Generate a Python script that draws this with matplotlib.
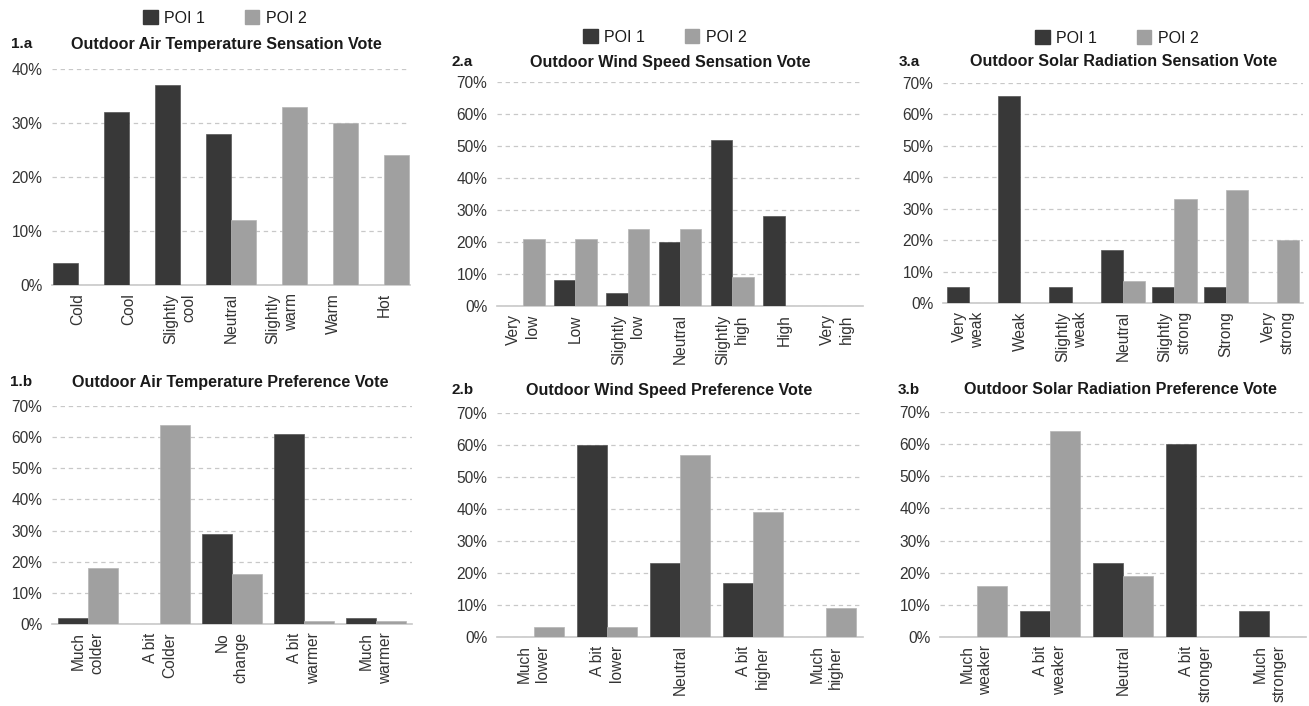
import matplotlib
matplotlib.use("Agg")
import matplotlib.pyplot as plt
from matplotlib.patches import Patch
from matplotlib.ticker import PercentFormatter
import numpy as np

plt.rcParams['font.family'] = ['Liberation Sans', 'DejaVu Sans']

# --- data (percent of votes) ---
cats_1a = ['Cold', 'Cool', 'Slightly\ncool', 'Neutral', 'Slightly\nwarm', 'Warm', 'Hot']
poi1_1a = [4, 32, 37, 28, 0, 0, 0]
poi2_1a = [0, 0, 0, 12, 33, 30, 24]

cats_2a = ['Very\nlow', 'Low', 'Slightly\nlow', 'Neutral', 'Slightly\nhigh', 'High', 'Very\nhigh']
poi1_2a = [0, 8, 4, 20, 52, 28, 0]
poi2_2a = [21, 21, 24, 24, 9, 0, 0]

cats_3a = ['Very\nweak', 'Weak', 'Slightly\nweak', 'Neutral', 'Slightly\nstrong', 'Strong', 'Very\nstrong']
poi1_3a = [5, 66, 5, 17, 5, 5, 0]
poi2_3a = [0, 0, 0, 7, 33, 36, 20]

cats_1b = ['Much\ncolder', 'A bit\nColder', 'No\nchange', 'A bit\nwarmer', 'Much\nwarmer']
poi1_1b = [2, 0, 29, 61, 2]
poi2_1b = [18, 64, 16, 1, 1]

cats_2b = ['Much\nlower', 'A bit\nlower', 'Neutral', 'A bit\nhigher', 'Much\nhigher']
poi1_2b = [0, 60, 23, 17, 0]
poi2_2b = [3, 3, 57, 39, 9]

cats_3b = ['Much\nweaker', 'A bit\nweaker', 'Neutral', 'A bit\nstronger', 'Much\nstronger']
poi1_3b = [0, 8, 23, 60, 8]
poi2_3b = [16, 64, 19, 0, 0]

DARK = '#383838'
LIGHT = '#a0a0a0'
W, H = 1309, 706

fig = plt.figure(figsize=(W / 100, H / 100), dpi=100)


def px_axes(x0, y0, x1, y1):
    return fig.add_axes([x0 / W, 1 - y1 / H, (x1 - x0) / W, (y1 - y0) / H])


def panel(box, cats, p1, p2, ymax, bw, tag, title, tag_xy, title_xy, legend_xy=None):
    ax = px_axes(*box)
    x = np.arange(len(cats))
    ax.bar(x - bw / 2, p1, bw, color=DARK, edgecolor='#555555', linewidth=0.5, zorder=3)
    ax.bar(x + bw / 2, p2, bw, color=LIGHT, edgecolor='#b4b4b4', linewidth=0.5, zorder=3)
    ax.set_xlim(-0.5, len(cats) - 0.5)
    ax.set_ylim(0, ymax)
    ax.set_yticks(np.arange(0, ymax + 1, 10))
    ax.yaxis.set_major_formatter(PercentFormatter(decimals=0))
    ax.set_xticks(x)
    ax.set_xticklabels(cats, rotation=90, ha='center', va='top', multialignment='right',
                       linespacing=1.3)
    ax.tick_params(axis='both', length=0, labelsize=11.2, labelcolor='#333333')
    ax.tick_params(axis='y', pad=7)
    ax.tick_params(axis='x', pad=6)
    ax.grid(axis='y', color='#c8c8c8', linestyle=(0, (3.5, 3)), linewidth=0.9, zorder=0)
    for s in ['top', 'right', 'left']:
        ax.spines[s].set_visible(False)
    ax.spines['bottom'].set_color('#c8c8c8')
    ax.spines['bottom'].set_linewidth(1.2)
    fig.text(tag_xy[0] / W, 1 - tag_xy[1] / H, tag, fontsize=11, fontweight='bold',
             color='#1a1a1a', ha='left', va='center')
    fig.text(title_xy[0] / W, 1 - title_xy[1] / H, title, fontsize=11.6, fontweight='bold',
             color='#1a1a1a', ha='center', va='center')
    if legend_xy is not None:
        handles = [Patch(color=DARK, label='POI 1'), Patch(color=LIGHT, label='POI 2')]
        fig.legend(handles=handles, loc='center', ncol=2, frameon=False, fontsize=11.5,
                   bbox_to_anchor=(legend_xy[0] / W, 1 - legend_xy[1] / H),
                   handlelength=0.9, handleheight=0.9, handletextpad=0.4,
                   columnspacing=2.5, labelcolor='#1a1a1a')
    return ax


panel((52, 69, 410, 285), cats_1a, poi1_1a, poi2_1a, 40, 0.49, '1.a',
      'Outdoor Air Temperature Sensation Vote', (11, 44), (226, 44), (225, 18))
panel((497, 82, 863, 306), cats_2a, poi1_2a, poi2_2a, 70, 0.41, '2.a',
      'Outdoor Wind Speed Sensation Vote', (451, 62), (670, 62), (665, 37))
panel((943, 83, 1303, 303), cats_3a, poi1_3a, poi2_3a, 70, 0.43, '3.a',
      'Outdoor Solar Radiation Sensation Vote', (899, 62), (1124, 62), (1117, 38))
panel((52, 406, 412, 624), cats_1b, poi1_1b, poi2_1b, 70, 0.41, '1.b',
      'Outdoor Air Temperature Preference Vote', (10, 382), (230, 382))
panel((497, 413, 863, 637), cats_2b, poi1_2b, poi2_2b, 70, 0.41, '2.b',
      'Outdoor Wind Speed Preference Vote', (451, 390), (669, 390))
panel((940, 412, 1306, 637), cats_3b, poi1_3b, poi2_3b, 70, 0.41, '3.b',
      'Outdoor Solar Radiation Preference Vote', (898, 390), (1120, 390))

fig.savefig('out.png', dpi=100)
